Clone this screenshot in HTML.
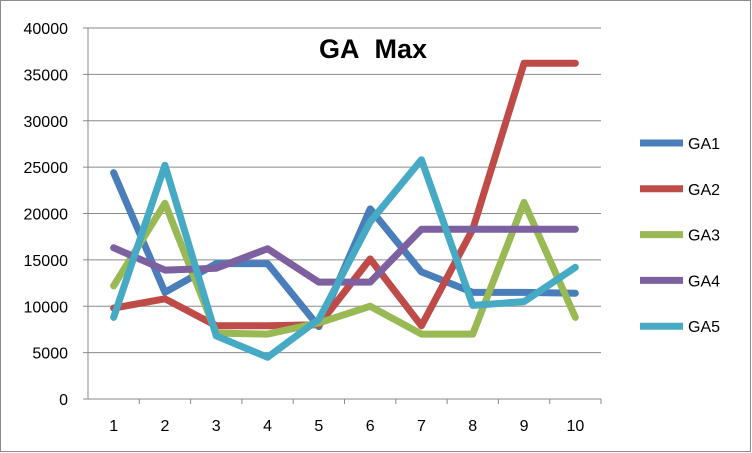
<!DOCTYPE html>
<html><head><meta charset="utf-8"><style>
html,body{margin:0;padding:0;background:#fff}
svg{display:block;font-family:"Liberation Sans",Arial,sans-serif}
</style></head><body>
<svg id="chart" width="752" height="453">
<rect x="0.5" y="0.5" width="750" height="451" fill="#fff" stroke="#8c8c8c"/>
<text x="373" y="58" font-size="27" font-weight="bold" text-anchor="middle">GA&#160;&#160;Max</text>
<g id="grid"></g><g id="axes"></g><g id="series"></g><g id="legend"></g>
</svg>
<script>
const categories=["1","2","3","4","5","6","7","8","9","10"];
const yTicks=[0,5000,10000,15000,20000,25000,30000,35000,40000];
const seriesNames=["GA1","GA2","GA3","GA4","GA5"];
const seriesColors=["#4a7ebb","#be4b48","#98b954","#7d60a0","#46aac5"];
const ga1=[24400,11500,14600,14600,7800,20500,13700,11500,11500,11400];
const ga2=[9800,10800,7900,7900,8000,15100,7900,18300,36200,36200];
const ga3=[12200,21100,7100,7000,8200,10000,7000,7000,21200,8800];
const ga4=[16300,13900,14100,16200,12600,12600,18300,18300,18300,18300];
const ga5=[8800,25200,6800,4500,8600,19100,25800,10100,10500,14200];
const allSeries=[ga1,ga2,ga3,ga4,ga5];
const NS="http://www.w3.org/2000/svg";
const x0=88,x1=601,y0=399,y1=28,yMax=40000;
const step=(x1-x0)/categories.length;
const xs=i=>x0+step*(i+0.5);
const ys=v=>y0-(v/yMax)*(y0-y1);
function mk(tag,attrs,parent){const e=document.createElementNS(NS,tag);for(const k in attrs)e.setAttribute(k,attrs[k]);parent.appendChild(e);return e;}
const grid=document.getElementById('grid'),axes=document.getElementById('axes'),ser=document.getElementById('series'),leg=document.getElementById('legend');
yTicks.forEach(t=>{
  if(t>0){const g=mk('line',{x1:x0,x2:x1,y1:ys(t),y2:ys(t),stroke:'#8a8a8a','stroke-width':1},grid);
  
  }
  const tk=mk('line',{x1:x0-5,x2:x0,y1:ys(t),y2:ys(t),stroke:'#8a8a8a'},axes);
  
  
  const tx=mk('text',{x:68,y:ys(t)+6,'font-size':16,'text-anchor':'end'},axes);tx.textContent=t;
  
  
});
const ya=mk('line',{x1:x0,x2:x0,y1:y1,y2:y0,stroke:'#8a8a8a'},axes);


const xa=mk('line',{x1:x0,x2:x1,y1:y0,y2:y0,stroke:'#8a8a8a'},axes);


categories.forEach((c,i)=>{
  const tk=mk('line',{x1:x0+step*(i+1),x2:x0+step*(i+1),y1:y0,y2:y0+5,stroke:'#8a8a8a'},axes);
  
  
  const tx=mk('text',{x:xs(i),y:431,'font-size':16,'text-anchor':'middle'},axes);tx.textContent=c;
  
  
});
allSeries.forEach((data,s)=>{
  const p=mk('polyline',{points:data.map((v,i)=>xs(i)+','+ys(v)).join(' '),fill:'none',stroke:seriesColors[s],'stroke-width':7,'stroke-linejoin':'round','stroke-linecap':'round'},ser);
  
  
  const ly=143+s*45.8;
  const ll=mk('line',{x1:640,x2:683,y1:ly,y2:ly,stroke:seriesColors[s],'stroke-width':7},leg);
  
  
  const lt=mk('text',{x:688,y:ly+6,'font-size':16},leg);lt.textContent=seriesNames[s];
  
  
});
</script>
</body></html>
